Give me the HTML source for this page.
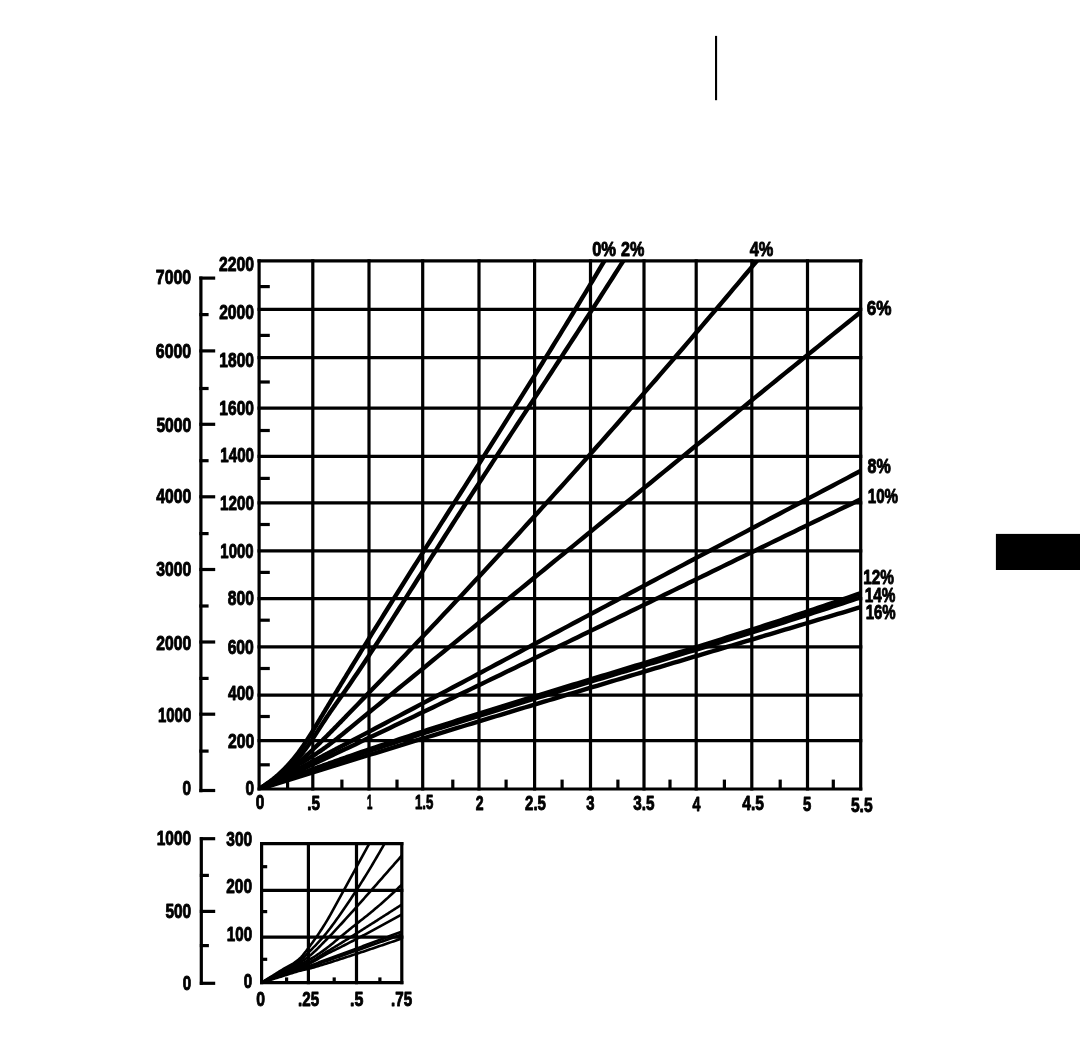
<!DOCTYPE html><html><head><meta charset="utf-8"><style>html,body{margin:0;padding:0;background:#fff;width:1080px;height:1058px;overflow:hidden}svg{display:block;will-change:transform}</style></head><body><svg width="1080" height="1058" viewBox="0 0 1080 1058">
<rect width="1080" height="1058" fill="#fff"/>
<g stroke="#000" fill="none">
<line x1="259.10" y1="259.20" x2="259.10" y2="790.60" stroke-width="3.2" stroke-linecap="butt"/>
<line x1="312.80" y1="259.20" x2="312.80" y2="790.60" stroke-width="3.2" stroke-linecap="butt"/>
<line x1="369.00" y1="259.20" x2="369.00" y2="790.60" stroke-width="3.2" stroke-linecap="butt"/>
<line x1="422.70" y1="259.20" x2="422.70" y2="790.60" stroke-width="3.2" stroke-linecap="butt"/>
<line x1="479.00" y1="259.20" x2="479.00" y2="790.60" stroke-width="3.2" stroke-linecap="butt"/>
<line x1="534.60" y1="259.20" x2="534.60" y2="790.60" stroke-width="3.2" stroke-linecap="butt"/>
<line x1="590.50" y1="259.20" x2="590.50" y2="790.60" stroke-width="3.2" stroke-linecap="butt"/>
<line x1="644.00" y1="259.20" x2="644.00" y2="790.60" stroke-width="3.2" stroke-linecap="butt"/>
<line x1="696.20" y1="259.20" x2="696.20" y2="790.60" stroke-width="3.2" stroke-linecap="butt"/>
<line x1="751.80" y1="259.20" x2="751.80" y2="790.60" stroke-width="3.2" stroke-linecap="butt"/>
<line x1="807.50" y1="259.20" x2="807.50" y2="790.60" stroke-width="3.2" stroke-linecap="butt"/>
<line x1="860.70" y1="259.20" x2="860.70" y2="790.60" stroke-width="3.2" stroke-linecap="butt"/>
<line x1="257.50" y1="789.00" x2="862.30" y2="789.00" stroke-width="3.2" stroke-linecap="butt"/>
<line x1="257.50" y1="740.70" x2="862.30" y2="740.70" stroke-width="3.2" stroke-linecap="butt"/>
<line x1="257.50" y1="695.10" x2="862.30" y2="695.10" stroke-width="3.2" stroke-linecap="butt"/>
<line x1="257.50" y1="646.90" x2="862.30" y2="646.90" stroke-width="3.2" stroke-linecap="butt"/>
<line x1="257.50" y1="598.60" x2="862.30" y2="598.60" stroke-width="3.2" stroke-linecap="butt"/>
<line x1="257.50" y1="550.90" x2="862.30" y2="550.90" stroke-width="3.2" stroke-linecap="butt"/>
<line x1="257.50" y1="502.80" x2="862.30" y2="502.80" stroke-width="3.2" stroke-linecap="butt"/>
<line x1="257.50" y1="456.30" x2="862.30" y2="456.30" stroke-width="3.2" stroke-linecap="butt"/>
<line x1="257.50" y1="408.20" x2="862.30" y2="408.20" stroke-width="3.2" stroke-linecap="butt"/>
<line x1="257.50" y1="357.60" x2="862.30" y2="357.60" stroke-width="3.2" stroke-linecap="butt"/>
<line x1="257.50" y1="309.40" x2="862.30" y2="309.40" stroke-width="3.2" stroke-linecap="butt"/>
<line x1="257.50" y1="260.80" x2="862.30" y2="260.80" stroke-width="3.2" stroke-linecap="butt"/>
<line x1="259.10" y1="286.60" x2="269.80" y2="286.60" stroke-width="3.2" stroke-linecap="butt"/>
<line x1="259.10" y1="335.40" x2="269.80" y2="335.40" stroke-width="3.2" stroke-linecap="butt"/>
<line x1="259.10" y1="382.00" x2="269.80" y2="382.00" stroke-width="3.2" stroke-linecap="butt"/>
<line x1="259.10" y1="430.50" x2="269.80" y2="430.50" stroke-width="3.2" stroke-linecap="butt"/>
<line x1="259.10" y1="478.40" x2="269.80" y2="478.40" stroke-width="3.2" stroke-linecap="butt"/>
<line x1="259.10" y1="524.50" x2="269.80" y2="524.50" stroke-width="3.2" stroke-linecap="butt"/>
<line x1="259.10" y1="572.40" x2="269.80" y2="572.40" stroke-width="3.2" stroke-linecap="butt"/>
<line x1="259.10" y1="620.20" x2="269.80" y2="620.20" stroke-width="3.2" stroke-linecap="butt"/>
<line x1="259.10" y1="668.50" x2="269.80" y2="668.50" stroke-width="3.2" stroke-linecap="butt"/>
<line x1="259.10" y1="716.50" x2="269.80" y2="716.50" stroke-width="3.2" stroke-linecap="butt"/>
<line x1="259.10" y1="764.80" x2="269.80" y2="764.80" stroke-width="3.2" stroke-linecap="butt"/>
<line x1="287.60" y1="789.00" x2="287.60" y2="779.60" stroke-width="3.2" stroke-linecap="butt"/>
<line x1="341.90" y1="789.00" x2="341.90" y2="779.60" stroke-width="3.2" stroke-linecap="butt"/>
<line x1="397.00" y1="789.00" x2="397.00" y2="779.60" stroke-width="3.2" stroke-linecap="butt"/>
<line x1="452.80" y1="789.00" x2="452.80" y2="779.60" stroke-width="3.2" stroke-linecap="butt"/>
<line x1="506.10" y1="789.00" x2="506.10" y2="779.60" stroke-width="3.2" stroke-linecap="butt"/>
<line x1="562.10" y1="789.00" x2="562.10" y2="779.60" stroke-width="3.2" stroke-linecap="butt"/>
<line x1="617.90" y1="789.00" x2="617.90" y2="779.60" stroke-width="3.2" stroke-linecap="butt"/>
<line x1="670.00" y1="789.00" x2="670.00" y2="779.60" stroke-width="3.2" stroke-linecap="butt"/>
<line x1="724.40" y1="789.00" x2="724.40" y2="779.60" stroke-width="3.2" stroke-linecap="butt"/>
<line x1="780.20" y1="789.00" x2="780.20" y2="779.60" stroke-width="3.2" stroke-linecap="butt"/>
<line x1="833.30" y1="789.00" x2="833.30" y2="779.60" stroke-width="3.2" stroke-linecap="butt"/>
<line x1="200.90" y1="276.50" x2="200.90" y2="792.20" stroke-width="3.2" stroke-linecap="butt"/>
<line x1="199.30" y1="278.10" x2="215.20" y2="278.10" stroke-width="3.2" stroke-linecap="butt"/>
<line x1="199.30" y1="350.90" x2="215.20" y2="350.90" stroke-width="3.2" stroke-linecap="butt"/>
<line x1="199.30" y1="424.30" x2="215.20" y2="424.30" stroke-width="3.2" stroke-linecap="butt"/>
<line x1="199.30" y1="496.80" x2="215.20" y2="496.80" stroke-width="3.2" stroke-linecap="butt"/>
<line x1="199.30" y1="569.50" x2="215.20" y2="569.50" stroke-width="3.2" stroke-linecap="butt"/>
<line x1="199.30" y1="642.00" x2="215.20" y2="642.00" stroke-width="3.2" stroke-linecap="butt"/>
<line x1="199.30" y1="714.20" x2="215.20" y2="714.20" stroke-width="3.2" stroke-linecap="butt"/>
<line x1="199.30" y1="790.50" x2="215.20" y2="790.50" stroke-width="3.2" stroke-linecap="butt"/>
<line x1="199.30" y1="314.60" x2="208.60" y2="314.60" stroke-width="3.2" stroke-linecap="butt"/>
<line x1="199.30" y1="388.50" x2="208.60" y2="388.50" stroke-width="3.2" stroke-linecap="butt"/>
<line x1="199.30" y1="460.70" x2="208.60" y2="460.70" stroke-width="3.2" stroke-linecap="butt"/>
<line x1="199.30" y1="533.60" x2="208.60" y2="533.60" stroke-width="3.2" stroke-linecap="butt"/>
<line x1="199.30" y1="606.00" x2="208.60" y2="606.00" stroke-width="3.2" stroke-linecap="butt"/>
<line x1="199.30" y1="678.40" x2="208.60" y2="678.40" stroke-width="3.2" stroke-linecap="butt"/>
<line x1="199.30" y1="751.10" x2="208.60" y2="751.10" stroke-width="3.2" stroke-linecap="butt"/>
<line x1="261.60" y1="842.10" x2="261.60" y2="984.20" stroke-width="3.2" stroke-linecap="butt"/>
<line x1="308.40" y1="842.10" x2="308.40" y2="984.20" stroke-width="3.2" stroke-linecap="butt"/>
<line x1="356.50" y1="842.10" x2="356.50" y2="984.20" stroke-width="3.2" stroke-linecap="butt"/>
<line x1="401.80" y1="842.10" x2="401.80" y2="984.20" stroke-width="3.2" stroke-linecap="butt"/>
<line x1="260.00" y1="982.60" x2="403.40" y2="982.60" stroke-width="3.2" stroke-linecap="butt"/>
<line x1="260.00" y1="937.10" x2="403.40" y2="937.10" stroke-width="3.2" stroke-linecap="butt"/>
<line x1="260.00" y1="890.30" x2="403.40" y2="890.30" stroke-width="3.2" stroke-linecap="butt"/>
<line x1="260.00" y1="843.70" x2="403.40" y2="843.70" stroke-width="3.2" stroke-linecap="butt"/>
<line x1="261.60" y1="866.70" x2="267.20" y2="866.70" stroke-width="3.2" stroke-linecap="butt"/>
<line x1="261.60" y1="911.60" x2="267.20" y2="911.60" stroke-width="3.2" stroke-linecap="butt"/>
<line x1="261.60" y1="959.30" x2="267.20" y2="959.30" stroke-width="3.2" stroke-linecap="butt"/>
<line x1="286.60" y1="982.60" x2="286.60" y2="977.40" stroke-width="3.2" stroke-linecap="butt"/>
<line x1="334.20" y1="982.60" x2="334.20" y2="977.40" stroke-width="3.2" stroke-linecap="butt"/>
<line x1="379.90" y1="982.60" x2="379.90" y2="977.40" stroke-width="3.2" stroke-linecap="butt"/>
<line x1="201.30" y1="837.10" x2="201.30" y2="984.80" stroke-width="3.2" stroke-linecap="butt"/>
<line x1="199.80" y1="838.70" x2="215.20" y2="838.70" stroke-width="3.2" stroke-linecap="butt"/>
<line x1="199.80" y1="911.40" x2="215.20" y2="911.40" stroke-width="3.2" stroke-linecap="butt"/>
<line x1="199.80" y1="983.30" x2="215.20" y2="983.30" stroke-width="3.2" stroke-linecap="butt"/>
<line x1="199.80" y1="875.40" x2="208.90" y2="875.40" stroke-width="3.2" stroke-linecap="butt"/>
<line x1="199.80" y1="945.60" x2="208.90" y2="945.60" stroke-width="3.2" stroke-linecap="butt"/>
</g>
<defs><clipPath id="cm"><rect x="259.10" y="260.80" width="601.60" height="528.20"/></clipPath>
<clipPath id="ci"><rect x="261.60" y="843.70" width="140.20" height="138.90"/></clipPath></defs>
<g clip-path="url(#cm)" stroke="#000" fill="none" stroke-width="4.4" stroke-linejoin="round">
<path d="M259.10,789.30 259.90,788.39 260.71,787.89 261.51,787.38 262.31,786.87 263.11,786.34 263.92,785.81 264.72,785.27 265.52,784.72 266.32,784.16 267.13,783.59 267.93,783.02 268.73,782.43 269.53,781.84 270.34,781.23 271.14,780.62 271.94,779.99 272.74,779.36 273.55,778.71 274.35,778.06 275.15,777.39 275.96,776.71 276.76,776.02 277.56,775.32 278.36,774.61 279.17,773.89 279.97,773.15 280.77,772.40 281.57,771.64 282.38,770.87 283.18,770.08 283.98,769.28 284.78,768.47 285.59,767.65 286.39,766.81 287.19,765.95 288.00,765.09 288.80,764.21 289.60,763.31 290.40,762.40 291.21,761.47 292.01,760.53 292.81,759.58 293.61,758.61 294.42,757.62 295.22,756.62 296.02,755.60 296.82,754.57 297.63,753.52 298.43,752.46 299.23,751.37 300.03,750.27 300.84,749.15 301.64,748.02 302.44,746.87 303.25,745.71 304.05,744.53 304.85,743.33 305.65,742.12 306.46,740.90 307.26,739.67 308.06,738.43 308.86,737.17 309.67,735.91 310.47,734.63 311.27,733.35 312.07,732.05 312.88,730.76 313.68,729.45 314.48,728.14 315.28,726.82 316.09,725.49 316.89,724.16 317.69,722.83 318.50,721.50 319.30,720.16 320.10,718.82 320.90,717.48 321.71,716.14 322.51,714.80 323.31,713.46 324.11,712.12 324.92,710.79 325.72,709.45 326.52,708.11 327.32,706.78 328.13,705.44 328.93,704.11 329.73,702.78 330.54,701.45 331.34,700.12 332.14,698.79 332.94,697.46 333.75,696.13 334.55,694.80 335.35,693.47 336.15,692.15 336.96,690.82 337.76,689.50 338.56,688.17 339.36,686.85 340.17,685.53 340.97,684.21 341.77,682.89 342.57,681.57 343.38,680.25 344.18,678.93 344.98,677.61 345.79,676.30 346.59,674.98 349.10,670.87 351.60,666.77 354.11,662.68 356.62,658.59 359.13,654.51 361.64,650.43 364.15,646.36 366.65,642.30 369.16,638.25 371.67,634.19 374.18,630.15 376.69,626.11 379.20,622.07 381.70,618.04 384.21,614.02 386.72,610.00 389.23,605.98 391.74,601.97 394.24,597.96 396.75,593.96 399.26,589.96 401.77,585.96 404.28,581.97 406.79,577.98 409.29,574.00 411.80,570.02 414.31,566.04 416.82,562.06 419.33,558.09 421.84,554.11 424.34,550.15 426.85,546.18 429.36,542.21 431.87,538.25 434.38,534.29 436.89,530.33 439.39,526.37 441.90,522.41 444.41,518.46 446.92,514.50 449.43,510.54 451.93,506.59 454.44,502.64 456.95,498.68 459.46,494.73 461.97,490.77 464.48,486.82 466.98,482.87 469.49,478.91 472.00,474.95 474.51,471.00 477.02,467.04 479.53,463.08 482.03,459.12 484.54,455.16 487.05,451.19 489.56,447.23 492.07,443.26 494.58,439.29 497.08,435.32 499.59,431.34 502.10,427.37 504.61,423.39 507.12,419.40 509.62,415.42 512.13,411.43 514.64,407.43 517.15,403.44 519.66,399.44 522.17,395.43 524.67,391.42 527.18,387.41 529.69,383.39 532.20,379.37 534.71,375.34 537.22,371.31 539.72,367.28 542.23,363.23 544.74,359.19 547.25,355.13 549.76,351.07 552.27,347.01 554.77,342.94 557.28,338.86 559.79,334.78 562.30,330.69 564.81,326.59 567.31,322.49 569.82,318.38 572.33,314.26 574.84,310.14 577.35,306.01 579.86,301.87 582.36,297.72 584.87,293.56 587.38,289.40 589.89,285.23 592.40,281.05 594.91,276.86 597.41,272.66 599.92,268.45 602.43,264.24 604.94,260.01 607.45,255.78 609.95,251.53 612.46,247.28 614.97,243.01 617.48,238.74 619.99,234.46"/>
<path d="M259.10,789.30 259.90,788.84 260.71,788.33 261.51,787.82 262.31,787.31 263.11,786.80 263.92,786.28 264.72,785.77 265.52,785.25 266.32,784.73 267.13,784.21 267.93,783.68 268.73,783.15 269.53,782.62 270.34,782.08 271.14,781.54 271.94,780.99 272.74,780.44 273.55,779.88 274.35,779.32 275.15,778.75 275.96,778.17 276.76,777.59 277.56,777.00 278.36,776.40 279.17,775.79 279.97,775.17 280.77,774.55 281.57,773.91 282.38,773.27 283.18,772.62 283.98,771.95 284.78,771.28 285.59,770.59 286.39,769.90 287.19,769.19 288.00,768.47 288.80,767.74 289.60,766.99 290.40,766.23 291.21,765.46 292.01,764.68 292.81,763.88 293.61,763.06 294.42,762.23 295.22,761.39 296.02,760.53 296.82,759.65 297.63,758.76 298.43,757.85 299.23,756.93 300.03,755.98 300.84,755.02 301.64,754.04 302.44,753.05 303.25,752.03 304.05,751.00 304.85,749.94 305.65,748.87 306.46,747.77 307.26,746.66 308.06,745.54 308.86,744.39 309.67,743.23 310.47,742.06 311.27,740.88 312.07,739.69 312.88,738.48 313.68,737.27 314.48,736.04 315.28,734.82 316.09,733.58 316.89,732.34 317.69,731.10 318.50,729.86 319.30,728.61 320.10,727.37 320.90,726.13 321.71,724.88 322.51,723.64 323.31,722.41 324.11,721.18 324.92,719.95 325.72,718.73 326.52,717.52 327.32,716.32 328.13,715.13 328.93,713.94 329.73,712.77 330.54,711.60 331.34,710.45 332.14,709.29 332.94,708.15 333.75,707.01 334.55,705.87 335.35,704.73 336.15,703.60 336.96,702.47 337.76,701.34 338.56,700.21 339.36,699.07 340.17,697.94 340.97,696.80 341.77,695.66 342.57,694.51 343.38,693.37 344.18,692.22 344.98,691.07 345.79,689.91 346.59,688.75 349.25,684.90 351.91,681.01 354.56,677.10 357.22,673.17 359.88,669.20 362.54,665.22 365.20,661.21 367.86,657.18 370.52,653.13 373.18,649.06 375.83,644.97 378.49,640.87 381.15,636.74 383.81,632.61 386.47,628.46 389.13,624.30 391.79,620.12 394.45,615.94 397.10,611.75 399.76,607.55 402.42,603.34 405.08,599.13 407.74,594.91 410.40,590.69 413.06,586.47 415.72,582.24 418.37,578.02 421.03,573.80 423.69,569.58 426.35,565.36 429.01,561.15 431.67,556.94 434.33,552.75 436.99,548.56 439.64,544.37 442.30,540.20 444.96,536.03 447.62,531.86 450.28,527.71 452.94,523.56 455.60,519.41 458.26,515.27 460.91,511.14 463.57,507.01 466.23,502.89 468.89,498.77 471.55,494.66 474.21,490.55 476.87,486.45 479.53,482.35 482.18,478.26 484.84,474.16 487.50,470.08 490.16,465.99 492.82,461.91 495.48,457.83 498.14,453.75 500.80,449.68 503.45,445.61 506.11,441.54 508.77,437.47 511.43,433.40 514.09,429.34 516.75,425.27 519.41,421.21 522.07,417.15 524.72,413.09 527.38,409.02 530.04,404.96 532.70,400.90 535.36,396.84 538.02,392.78 540.68,388.71 543.34,384.65 545.99,380.58 548.65,376.52 551.31,372.45 553.97,368.38 556.63,364.31 559.29,360.23 561.95,356.15 564.61,352.07 567.26,347.99 569.92,343.91 572.58,339.82 575.24,335.72 577.90,331.63 580.56,327.53 583.22,323.42 585.88,319.31 588.53,315.20 591.19,311.08 593.85,306.96 596.51,302.83 599.17,298.70 601.83,294.56 604.49,290.41 607.15,286.26 609.80,282.10 612.46,277.94 615.12,273.77 617.78,269.59 620.44,265.40 623.10,261.21 625.76,257.01 628.42,252.80 631.07,248.59 633.73,244.36 636.39,240.13"/>
<path d="M259.10,789.30 259.90,789.01 260.71,788.62 261.51,788.23 262.31,787.83 263.11,787.42 263.92,787.00 264.72,786.57 265.52,786.14 266.32,785.70 267.13,785.25 267.93,784.79 268.73,784.33 269.53,783.85 270.34,783.38 271.14,782.89 271.94,782.40 272.74,781.89 273.55,781.39 274.35,780.87 275.15,780.35 275.96,779.82 276.76,779.29 277.56,778.75 278.36,778.20 279.17,777.64 279.97,777.08 280.77,776.51 281.57,775.94 282.38,775.36 283.18,774.77 283.98,774.18 284.78,773.58 285.59,772.98 286.39,772.37 287.19,771.76 288.00,771.13 288.80,770.51 289.60,769.88 290.40,769.24 291.21,768.60 292.01,767.95 292.81,767.29 293.61,766.64 294.42,765.97 295.22,765.30 296.02,764.63 296.82,763.95 297.63,763.27 298.43,762.58 299.23,761.89 300.03,761.20 300.84,760.50 301.64,759.79 302.44,759.08 303.25,758.37 304.05,757.65 304.85,756.93 305.65,756.21 306.46,755.48 307.26,754.75 308.06,754.01 308.86,753.27 309.67,752.53 310.47,751.78 311.27,751.03 312.07,750.28 312.88,749.52 313.68,748.76 314.48,748.00 315.28,747.23 316.09,746.46 316.89,745.69 317.69,744.92 318.50,744.14 319.30,743.36 320.10,742.58 320.90,741.79 321.71,741.01 322.51,740.22 323.31,739.43 324.11,738.63 324.92,737.84 325.72,737.04 326.52,736.24 327.32,735.44 328.13,734.64 328.93,733.83 329.73,733.03 330.54,732.22 331.34,731.41 332.14,730.60 332.94,729.79 333.75,728.97 334.55,728.16 335.35,727.34 336.15,726.53 336.96,725.71 337.76,724.89 338.56,724.07 339.36,723.24 340.17,722.42 340.97,721.60 341.77,720.77 342.57,719.95 343.38,719.12 344.18,718.30 344.98,717.47 345.79,716.64 346.59,715.81 350.50,711.77 354.41,707.73 358.33,703.69 362.24,699.65 366.15,695.61 370.07,691.57 373.98,687.52 377.89,683.47 381.80,679.41 385.72,675.34 389.63,671.27 393.54,667.19 397.46,663.10 401.37,659.01 405.28,654.91 409.19,650.81 413.11,646.70 417.02,642.58 420.93,638.46 424.85,634.33 428.76,630.20 432.67,626.06 436.58,621.92 440.50,617.76 444.41,613.60 448.32,609.44 452.24,605.27 456.15,601.09 460.06,596.91 463.97,592.72 467.89,588.53 471.80,584.32 475.71,580.12 479.63,575.90 483.54,571.68 487.45,567.46 491.36,563.22 495.28,558.98 499.19,554.74 503.10,550.49 507.02,546.23 510.93,541.96 514.84,537.69 518.75,533.42 522.67,529.13 526.58,524.84 530.49,520.55 534.41,516.25 538.32,511.94 542.23,507.62 546.14,503.30 550.06,498.98 553.97,494.64 557.88,490.30 561.80,485.95 565.71,481.60 569.62,477.24 573.54,472.87 577.45,468.50 581.36,464.12 585.27,459.74 589.19,455.35 593.10,450.95 597.01,446.54 600.93,442.13 604.84,437.71 608.75,433.29 612.66,428.86 616.58,424.42 620.49,419.98 624.40,415.52 628.32,411.07 632.23,406.60 636.14,402.13 640.05,397.66 643.97,393.17 647.88,388.68 651.79,384.18 655.71,379.68 659.62,375.17 663.53,370.65 667.44,366.13 671.36,361.60 675.27,357.06 679.18,352.52 683.10,347.97 687.01,343.41 690.92,338.85 694.83,334.28 698.75,329.70 702.66,325.12 706.57,320.53 710.49,315.93 714.40,311.32 718.31,306.71 722.22,302.09 726.14,297.47 730.05,292.84 733.96,288.20 737.88,283.56 741.79,278.90 745.70,274.24 749.61,269.58 753.53,264.91 757.44,260.23 761.35,255.54 765.27,250.85 769.18,246.15 773.09,241.44"/>
<path d="M259.10,789.30 259.90,788.64 260.71,788.07 261.51,787.49 262.31,786.93 263.11,786.37 263.92,785.81 264.72,785.26 265.52,784.71 266.32,784.17 267.13,783.63 267.93,783.10 268.73,782.57 269.53,782.04 270.34,781.52 271.14,781.00 271.94,780.49 272.74,779.98 273.55,779.47 274.35,778.97 275.15,778.46 275.96,777.97 276.76,777.47 277.56,776.98 278.36,776.49 279.17,776.00 279.97,775.51 280.77,775.03 281.57,774.55 282.38,774.07 283.18,773.59 283.98,773.11 284.78,772.64 285.59,772.17 286.39,771.69 287.19,771.22 288.00,770.75 288.80,770.28 289.60,769.81 290.40,769.34 291.21,768.87 292.01,768.41 292.81,767.94 293.61,767.47 294.42,767.00 295.22,766.53 296.02,766.06 296.82,765.60 297.63,765.12 298.43,764.65 299.23,764.18 300.03,763.71 300.84,763.23 301.64,762.76 302.44,762.28 303.25,761.80 304.05,761.32 304.85,760.84 305.65,760.35 306.46,759.87 307.26,759.38 308.06,758.89 308.86,758.39 309.67,757.89 310.47,757.39 311.27,756.89 312.07,756.39 312.88,755.88 313.68,755.36 314.48,754.85 315.28,754.33 316.09,753.80 316.89,753.28 317.69,752.74 318.50,752.21 319.30,751.67 320.10,751.12 320.90,750.57 321.71,750.02 322.51,749.46 323.31,748.90 324.11,748.33 324.92,747.75 325.72,747.17 326.52,746.59 327.32,746.00 328.13,745.41 328.93,744.81 329.73,744.21 330.54,743.60 331.34,742.99 332.14,742.37 332.94,741.76 333.75,741.13 334.55,740.51 335.35,739.88 336.15,739.25 336.96,738.61 337.76,737.98 338.56,737.34 339.36,736.69 340.17,736.05 340.97,735.40 341.77,734.75 342.57,734.10 343.38,733.45 344.18,732.79 344.98,732.14 345.79,731.48 346.59,730.82 351.40,726.85 356.22,722.87 361.04,718.91 365.85,714.96 370.67,711.02 375.48,707.10 380.30,703.18 385.11,699.26 389.93,695.34 394.75,691.43 399.56,687.51 404.38,683.60 409.19,679.68 414.01,675.76 418.83,671.84 423.64,667.92 428.46,664.00 433.27,660.07 438.09,656.15 442.91,652.23 447.72,648.30 452.54,644.38 457.35,640.45 462.17,636.52 466.98,632.60 471.80,628.67 476.62,624.74 481.43,620.81 486.25,616.88 491.06,612.95 495.88,609.02 500.70,605.09 505.51,601.16 510.33,597.23 515.14,593.29 519.96,589.36 524.77,585.43 529.59,581.50 534.41,577.56 539.22,573.63 544.04,569.70 548.85,565.76 553.67,561.83 558.49,557.89 563.30,553.96 568.12,550.03 572.93,546.09 577.75,542.16 582.56,538.22 587.38,534.29 592.20,530.36 597.01,526.42 601.83,522.49 606.64,518.56 611.46,514.62 616.28,510.69 621.09,506.76 625.91,502.83 630.72,498.89 635.54,494.96 640.36,491.03 645.17,487.10 649.99,483.17 654.80,479.24 659.62,475.31 664.43,471.38 669.25,467.45 674.07,463.52 678.88,459.60 683.70,455.67 688.51,451.74 693.33,447.82 698.15,443.89 702.96,439.97 707.78,436.05 712.59,432.12 717.41,428.20 722.22,424.28 727.04,420.36 731.86,416.44 736.67,412.53 741.49,408.61 746.30,404.69 751.12,400.78 755.94,396.86 760.75,392.95 765.57,389.04 770.38,385.13 775.20,381.22 780.01,377.31 784.83,373.40 789.65,369.50 794.46,365.59 799.28,361.69 804.09,357.79 808.91,353.89 813.73,349.99 818.54,346.09 823.36,342.19 828.17,338.30 832.99,334.40 837.81,330.51 842.62,326.62 847.44,322.73 852.25,318.84 857.07,314.96 861.88,311.07 866.70,307.19 871.52,303.31"/>
<path d="M259.10,789.30 259.90,788.88 260.71,788.47 261.51,788.05 262.31,787.63 263.11,787.21 263.92,786.79 264.72,786.37 265.52,785.96 266.32,785.54 267.13,785.12 267.93,784.70 268.73,784.28 269.53,783.86 270.34,783.45 271.14,783.03 271.94,782.61 272.74,782.19 273.55,781.77 274.35,781.35 275.15,780.93 275.96,780.51 276.76,780.10 277.56,779.68 278.36,779.26 279.17,778.84 279.97,778.42 280.77,778.00 281.57,777.58 282.38,777.16 283.18,776.74 283.98,776.32 284.78,775.91 285.59,775.49 286.39,775.07 287.19,774.65 288.00,774.23 288.80,773.81 289.60,773.39 290.40,772.97 291.21,772.55 292.01,772.13 292.81,771.71 293.61,771.29 294.42,770.87 295.22,770.45 296.02,770.03 296.82,769.61 297.63,769.19 298.43,768.77 299.23,768.35 300.03,767.93 300.84,767.51 301.64,767.09 302.44,766.67 303.25,766.25 304.05,765.83 304.85,765.41 305.65,764.99 306.46,764.57 307.26,764.15 308.06,763.73 308.86,763.31 309.67,762.89 310.47,762.47 311.27,762.05 312.07,761.63 312.88,761.21 313.68,760.79 314.48,760.36 315.28,759.94 316.09,759.52 316.89,759.10 317.69,758.68 318.50,758.26 319.30,757.84 320.10,757.42 320.90,757.00 321.71,756.58 322.51,756.16 323.31,755.73 324.11,755.31 324.92,754.89 325.72,754.47 326.52,754.05 327.32,753.63 328.13,753.21 328.93,752.79 329.73,752.36 330.54,751.94 331.34,751.52 332.14,751.10 332.94,750.68 333.75,750.26 334.55,749.84 335.35,749.41 336.15,748.99 336.96,748.57 337.76,748.15 338.56,747.73 339.36,747.31 340.17,746.88 340.97,746.46 341.77,746.04 342.57,745.62 343.38,745.20 344.18,744.77 344.98,744.35 345.79,743.93 346.59,743.51 351.40,740.97 356.22,738.44 361.04,735.90 365.85,733.37 370.67,730.83 375.48,728.29 380.30,725.75 385.11,723.21 389.93,720.67 394.75,718.13 399.56,715.58 404.38,713.04 409.19,710.49 414.01,707.95 418.83,705.40 423.64,702.85 428.46,700.30 433.27,697.75 438.09,695.20 442.91,692.65 447.72,690.10 452.54,687.54 457.35,684.99 462.17,682.44 466.98,679.88 471.80,677.32 476.62,674.77 481.43,672.21 486.25,669.65 491.06,667.10 495.88,664.54 500.70,661.98 505.51,659.42 510.33,656.86 515.14,654.30 519.96,651.74 524.77,649.18 529.59,646.62 534.41,644.05 539.22,641.49 544.04,638.93 548.85,636.37 553.67,633.80 558.49,631.24 563.30,628.68 568.12,626.11 572.93,623.55 577.75,620.99 582.56,618.42 587.38,615.86 592.20,613.29 597.01,610.73 601.83,608.16 606.64,605.60 611.46,603.04 616.28,600.47 621.09,597.91 625.91,595.34 630.72,592.78 635.54,590.21 640.36,587.65 645.17,585.09 649.99,582.52 654.80,579.96 659.62,577.40 664.43,574.83 669.25,572.27 674.07,569.71 678.88,567.15 683.70,564.58 688.51,562.02 693.33,559.46 698.15,556.90 702.96,554.34 707.78,551.78 712.59,549.22 717.41,546.66 722.22,544.10 727.04,541.55 731.86,538.99 736.67,536.43 741.49,533.88 746.30,531.32 751.12,528.76 755.94,526.21 760.75,523.66 765.57,521.10 770.38,518.55 775.20,516.00 780.01,513.45 784.83,510.90 789.65,508.35 794.46,505.80 799.28,503.25 804.09,500.71 808.91,498.16 813.73,495.62 818.54,493.07 823.36,490.53 828.17,487.99 832.99,485.45 837.81,482.91 842.62,480.37 847.44,477.83 852.25,475.29 857.07,472.76 861.88,470.22 866.70,467.69 871.52,465.16"/>
<path d="M259.10,789.30 259.90,788.94 260.71,788.57 261.51,788.20 262.31,787.82 263.11,787.45 263.92,787.08 264.72,786.71 265.52,786.34 266.32,785.97 267.13,785.60 267.93,785.23 268.73,784.86 269.53,784.48 270.34,784.11 271.14,783.74 271.94,783.37 272.74,783.00 273.55,782.63 274.35,782.25 275.15,781.88 275.96,781.51 276.76,781.14 277.56,780.77 278.36,780.39 279.17,780.02 279.97,779.65 280.77,779.28 281.57,778.90 282.38,778.53 283.18,778.16 283.98,777.78 284.78,777.41 285.59,777.04 286.39,776.66 287.19,776.29 288.00,775.92 288.80,775.54 289.60,775.17 290.40,774.80 291.21,774.42 292.01,774.05 292.81,773.68 293.61,773.30 294.42,772.93 295.22,772.55 296.02,772.18 296.82,771.81 297.63,771.43 298.43,771.06 299.23,770.68 300.03,770.31 300.84,769.93 301.64,769.56 302.44,769.18 303.25,768.81 304.05,768.43 304.85,768.06 305.65,767.68 306.46,767.31 307.26,766.93 308.06,766.56 308.86,766.18 309.67,765.81 310.47,765.43 311.27,765.06 312.07,764.68 312.88,764.30 313.68,763.93 314.48,763.55 315.28,763.18 316.09,762.80 316.89,762.42 317.69,762.05 318.50,761.67 319.30,761.30 320.10,760.92 320.90,760.54 321.71,760.17 322.51,759.79 323.31,759.41 324.11,759.04 324.92,758.66 325.72,758.28 326.52,757.90 327.32,757.53 328.13,757.15 328.93,756.77 329.73,756.40 330.54,756.02 331.34,755.64 332.14,755.26 332.94,754.89 333.75,754.51 334.55,754.13 335.35,753.75 336.15,753.37 336.96,753.00 337.76,752.62 338.56,752.24 339.36,751.86 340.17,751.48 340.97,751.10 341.77,750.73 342.57,750.35 343.38,749.97 344.18,749.59 344.98,749.21 345.79,748.83 346.59,748.45 351.40,746.18 356.22,743.90 361.04,741.62 365.85,739.34 370.67,737.06 375.48,734.77 380.30,732.48 385.11,730.19 389.93,727.90 394.75,725.60 399.56,723.31 404.38,721.01 409.19,718.71 414.01,716.40 418.83,714.10 423.64,711.79 428.46,709.48 433.27,707.17 438.09,704.86 442.91,702.55 447.72,700.23 452.54,697.91 457.35,695.59 462.17,693.27 466.98,690.95 471.80,688.63 476.62,686.30 481.43,683.97 486.25,681.64 491.06,679.32 495.88,676.98 500.70,674.65 505.51,672.32 510.33,669.98 515.14,667.65 519.96,665.31 524.77,662.97 529.59,660.63 534.41,658.29 539.22,655.95 544.04,653.61 548.85,651.26 553.67,648.92 558.49,646.58 563.30,644.23 568.12,641.88 572.93,639.54 577.75,637.19 582.56,634.84 587.38,632.49 592.20,630.14 597.01,627.79 601.83,625.44 606.64,623.09 611.46,620.73 616.28,618.38 621.09,616.03 625.91,613.68 630.72,611.32 635.54,608.97 640.36,606.62 645.17,604.26 649.99,601.91 654.80,599.55 659.62,597.20 664.43,594.85 669.25,592.49 674.07,590.14 678.88,587.78 683.70,585.43 688.51,583.08 693.33,580.72 698.15,578.37 702.96,576.02 707.78,573.66 712.59,571.31 717.41,568.96 722.22,566.61 727.04,564.26 731.86,561.90 736.67,559.55 741.49,557.21 746.30,554.86 751.12,552.51 755.94,550.16 760.75,547.81 765.57,545.47 770.38,543.12 775.20,540.78 780.01,538.43 784.83,536.09 789.65,533.75 794.46,531.41 799.28,529.07 804.09,526.73 808.91,524.39 813.73,522.06 818.54,519.72 823.36,517.39 828.17,515.06 832.99,512.73 837.81,510.39 842.62,508.07 847.44,505.74 852.25,503.41 857.07,501.09 861.88,498.77 866.70,496.45 871.52,494.13"/>
<path d="M259.10,789.30 259.90,788.97 260.71,788.66 261.51,788.35 262.31,788.04 263.11,787.74 263.92,787.43 264.72,787.12 265.52,786.81 266.32,786.50 267.13,786.20 267.93,785.89 268.73,785.58 269.53,785.28 270.34,784.97 271.14,784.67 271.94,784.36 272.74,784.06 273.55,783.75 274.35,783.45 275.15,783.14 275.96,782.84 276.76,782.54 277.56,782.23 278.36,781.93 279.17,781.63 279.97,781.33 280.77,781.02 281.57,780.72 282.38,780.42 283.18,780.12 283.98,779.82 284.78,779.52 285.59,779.22 286.39,778.92 287.19,778.62 288.00,778.32 288.80,778.02 289.60,777.72 290.40,777.42 291.21,777.12 292.01,776.83 292.81,776.53 293.61,776.23 294.42,775.93 295.22,775.64 296.02,775.34 296.82,775.05 297.63,774.75 298.43,774.45 299.23,774.16 300.03,773.86 300.84,773.57 301.64,773.27 302.44,772.98 303.25,772.69 304.05,772.39 304.85,772.10 305.65,771.81 306.46,771.51 307.26,771.22 308.06,770.93 308.86,770.64 309.67,770.34 310.47,770.05 311.27,769.76 312.07,769.47 312.88,769.18 313.68,768.89 314.48,768.60 315.28,768.31 316.09,768.02 316.89,767.73 317.69,767.44 318.50,767.15 319.30,766.86 320.10,766.57 320.90,766.29 321.71,766.00 322.51,765.71 323.31,765.42 324.11,765.14 324.92,764.85 325.72,764.56 326.52,764.28 327.32,763.99 328.13,763.71 328.93,763.42 329.73,763.13 330.54,762.85 331.34,762.56 332.14,762.28 332.94,762.00 333.75,761.71 334.55,761.43 335.35,761.14 336.15,760.86 336.96,760.58 337.76,760.30 338.56,760.01 339.36,759.73 340.17,759.45 340.97,759.17 341.77,758.88 342.57,758.60 343.38,758.32 344.18,758.04 344.98,757.76 345.79,757.48 346.59,757.20 351.40,755.52 356.22,753.86 361.04,752.19 365.85,750.54 370.67,748.90 375.48,747.26 380.30,745.63 385.11,744.01 389.93,742.40 394.75,740.79 399.56,739.19 404.38,737.59 409.19,736.00 414.01,734.42 418.83,732.85 423.64,731.28 428.46,729.71 433.27,728.16 438.09,726.60 442.91,725.06 447.72,723.52 452.54,721.98 457.35,720.45 462.17,718.92 466.98,717.40 471.80,715.88 476.62,714.37 481.43,712.86 486.25,711.35 491.06,709.85 495.88,708.35 500.70,706.85 505.51,705.36 510.33,703.87 515.14,702.39 519.96,700.90 524.77,699.42 529.59,697.94 534.41,696.47 539.22,694.99 544.04,693.52 548.85,692.05 553.67,690.59 558.49,689.12 563.30,687.65 568.12,686.19 572.93,684.73 577.75,683.26 582.56,681.80 587.38,680.34 592.20,678.88 597.01,677.42 601.83,675.96 606.64,674.50 611.46,673.04 616.28,671.57 621.09,670.11 625.91,668.65 630.72,667.19 635.54,665.72 640.36,664.26 645.17,662.79 649.99,661.32 654.80,659.85 659.62,658.38 664.43,656.90 669.25,655.42 674.07,653.94 678.88,652.46 683.70,650.98 688.51,649.49 693.33,648.00 698.15,646.51 702.96,645.01 707.78,643.51 712.59,642.00 717.41,640.50 722.22,638.98 727.04,637.47 731.86,635.95 736.67,634.42 741.49,632.89 746.30,631.36 751.12,629.82 755.94,628.27 760.75,626.72 765.57,625.17 770.38,623.61 775.20,622.04 780.01,620.47 784.83,618.89 789.65,617.30 794.46,615.71 799.28,614.12 804.09,612.51 808.91,610.90 813.73,609.28 818.54,607.65 823.36,606.02 828.17,604.38 832.99,602.73 837.81,601.08 842.62,599.41 847.44,597.74 852.25,596.06 857.07,594.37 861.88,592.67 866.70,590.96 871.52,589.25"/>
<path d="M259.10,789.30 259.90,788.99 260.71,788.70 261.51,788.40 262.31,788.11 263.11,787.82 263.92,787.52 264.72,787.23 265.52,786.94 266.32,786.65 267.13,786.36 267.93,786.07 268.73,785.78 269.53,785.48 270.34,785.19 271.14,784.90 271.94,784.61 272.74,784.32 273.55,784.03 274.35,783.74 275.15,783.46 275.96,783.17 276.76,782.88 277.56,782.59 278.36,782.30 279.17,782.01 279.97,781.72 280.77,781.44 281.57,781.15 282.38,780.86 283.18,780.58 283.98,780.29 284.78,780.00 285.59,779.72 286.39,779.43 287.19,779.14 288.00,778.86 288.80,778.57 289.60,778.29 290.40,778.00 291.21,777.72 292.01,777.43 292.81,777.15 293.61,776.86 294.42,776.58 295.22,776.30 296.02,776.01 296.82,775.73 297.63,775.45 298.43,775.16 299.23,774.88 300.03,774.60 300.84,774.32 301.64,774.03 302.44,773.75 303.25,773.47 304.05,773.19 304.85,772.91 305.65,772.63 306.46,772.35 307.26,772.07 308.06,771.78 308.86,771.50 309.67,771.22 310.47,770.94 311.27,770.66 312.07,770.39 312.88,770.11 313.68,769.83 314.48,769.55 315.28,769.27 316.09,768.99 316.89,768.71 317.69,768.43 318.50,768.16 319.30,767.88 320.10,767.60 320.90,767.32 321.71,767.05 322.51,766.77 323.31,766.49 324.11,766.22 324.92,765.94 325.72,765.66 326.52,765.39 327.32,765.11 328.13,764.84 328.93,764.56 329.73,764.29 330.54,764.01 331.34,763.74 332.14,763.46 332.94,763.19 333.75,762.91 334.55,762.64 335.35,762.37 336.15,762.09 336.96,761.82 337.76,761.54 338.56,761.27 339.36,761.00 340.17,760.73 340.97,760.45 341.77,760.18 342.57,759.91 343.38,759.64 344.18,759.36 344.98,759.09 345.79,758.82 346.59,758.55 351.40,756.93 356.22,755.31 361.04,753.69 365.85,752.09 370.67,750.49 375.48,748.89 380.30,747.30 385.11,745.72 389.93,744.14 394.75,742.57 399.56,741.00 404.38,739.44 409.19,737.88 414.01,736.33 418.83,734.78 423.64,733.24 428.46,731.70 433.27,730.16 438.09,728.63 442.91,727.11 447.72,725.59 452.54,724.07 457.35,722.55 462.17,721.04 466.98,719.53 471.80,718.03 476.62,716.53 481.43,715.03 486.25,713.54 491.06,712.05 495.88,710.56 500.70,709.07 505.51,707.59 510.33,706.11 515.14,704.63 519.96,703.15 524.77,701.68 529.59,700.21 534.41,698.74 539.22,697.27 544.04,695.80 548.85,694.34 553.67,692.87 558.49,691.41 563.30,689.95 568.12,688.49 572.93,687.03 577.75,685.58 582.56,684.12 587.38,682.66 592.20,681.21 597.01,679.75 601.83,678.29 606.64,676.84 611.46,675.38 616.28,673.93 621.09,672.47 625.91,671.02 630.72,669.56 635.54,668.11 640.36,666.65 645.17,665.19 649.99,663.73 654.80,662.27 659.62,660.81 664.43,659.35 669.25,657.88 674.07,656.42 678.88,654.95 683.70,653.48 688.51,652.01 693.33,650.54 698.15,649.07 702.96,647.59 707.78,646.11 712.59,644.63 717.41,643.15 722.22,641.66 727.04,640.17 731.86,638.68 736.67,637.19 741.49,635.69 746.30,634.19 751.12,632.68 755.94,631.18 760.75,629.67 765.57,628.15 770.38,626.63 775.20,625.11 780.01,623.58 784.83,622.05 789.65,620.52 794.46,618.98 799.28,617.43 804.09,615.89 808.91,614.33 813.73,612.78 818.54,611.21 823.36,609.64 828.17,608.07 832.99,606.49 837.81,604.91 842.62,603.32 847.44,601.72 852.25,600.12 857.07,598.52 861.88,596.90 866.70,595.28 871.52,593.66"/>
<path d="M259.10,789.30 259.90,789.02 260.71,788.77 261.51,788.52 262.31,788.27 263.11,788.01 263.92,787.76 264.72,787.51 265.52,787.26 266.32,787.00 267.13,786.75 267.93,786.50 268.73,786.25 269.53,785.99 270.34,785.74 271.14,785.49 271.94,785.24 272.74,784.98 273.55,784.73 274.35,784.48 275.15,784.23 275.96,783.98 276.76,783.72 277.56,783.47 278.36,783.22 279.17,782.97 279.97,782.72 280.77,782.47 281.57,782.21 282.38,781.96 283.18,781.71 283.98,781.46 284.78,781.21 285.59,780.96 286.39,780.70 287.19,780.45 288.00,780.20 288.80,779.95 289.60,779.70 290.40,779.45 291.21,779.20 292.01,778.95 292.81,778.69 293.61,778.44 294.42,778.19 295.22,777.94 296.02,777.69 296.82,777.44 297.63,777.19 298.43,776.94 299.23,776.69 300.03,776.44 300.84,776.18 301.64,775.93 302.44,775.68 303.25,775.43 304.05,775.18 304.85,774.93 305.65,774.68 306.46,774.43 307.26,774.18 308.06,773.93 308.86,773.68 309.67,773.43 310.47,773.18 311.27,772.93 312.07,772.68 312.88,772.43 313.68,772.18 314.48,771.93 315.28,771.68 316.09,771.43 316.89,771.18 317.69,770.93 318.50,770.68 319.30,770.43 320.10,770.18 320.90,769.93 321.71,769.68 322.51,769.43 323.31,769.18 324.11,768.93 324.92,768.68 325.72,768.43 326.52,768.18 327.32,767.93 328.13,767.68 328.93,767.43 329.73,767.18 330.54,766.93 331.34,766.68 332.14,766.44 332.94,766.19 333.75,765.94 334.55,765.69 335.35,765.44 336.15,765.19 336.96,764.94 337.76,764.69 338.56,764.44 339.36,764.19 340.17,763.94 340.97,763.70 341.77,763.45 342.57,763.20 343.38,762.95 344.18,762.70 344.98,762.45 345.79,762.20 346.59,761.95 351.40,760.46 356.22,758.97 361.04,757.49 365.85,756.00 370.67,754.51 375.48,753.03 380.30,751.54 385.11,750.06 389.93,748.58 394.75,747.10 399.56,745.62 404.38,744.14 409.19,742.67 414.01,741.19 418.83,739.71 423.64,738.24 428.46,736.77 433.27,735.30 438.09,733.83 442.91,732.36 447.72,730.89 452.54,729.42 457.35,727.95 462.17,726.49 466.98,725.02 471.80,723.56 476.62,722.10 481.43,720.64 486.25,719.17 491.06,717.71 495.88,716.25 500.70,714.80 505.51,713.34 510.33,711.88 515.14,710.42 519.96,708.97 524.77,707.51 529.59,706.06 534.41,704.61 539.22,703.16 544.04,701.70 548.85,700.25 553.67,698.80 558.49,697.35 563.30,695.90 568.12,694.46 572.93,693.01 577.75,691.56 582.56,690.12 587.38,688.67 592.20,687.22 597.01,685.78 601.83,684.34 606.64,682.89 611.46,681.45 616.28,680.01 621.09,678.56 625.91,677.12 630.72,675.68 635.54,674.24 640.36,672.80 645.17,671.36 649.99,669.92 654.80,668.48 659.62,667.04 664.43,665.61 669.25,664.17 674.07,662.73 678.88,661.29 683.70,659.86 688.51,658.42 693.33,656.98 698.15,655.55 702.96,654.11 707.78,652.68 712.59,651.24 717.41,649.81 722.22,648.37 727.04,646.94 731.86,645.50 736.67,644.07 741.49,642.63 746.30,641.20 751.12,639.77 755.94,638.33 760.75,636.90 765.57,635.47 770.38,634.03 775.20,632.60 780.01,631.16 784.83,629.73 789.65,628.30 794.46,626.86 799.28,625.43 804.09,624.00 808.91,622.56 813.73,621.13 818.54,619.70 823.36,618.26 828.17,616.83 832.99,615.40 837.81,613.96 842.62,612.53 847.44,611.09 852.25,609.66 857.07,608.22 861.88,606.79 866.70,605.35 871.52,603.92"/>
</g>
<g clip-path="url(#ci)" stroke="#000" fill="none" stroke-width="2.6" stroke-linejoin="round">
<path d="M261.60,982.60 262.97,981.74 264.34,980.88 265.72,980.03 267.09,979.17 268.46,978.31 269.83,977.45 271.20,976.59 272.57,975.74 273.95,974.88 275.32,974.02 276.69,973.16 278.06,972.30 279.43,971.45 280.80,970.59 282.18,969.77 283.55,968.98 284.92,968.21 286.29,967.45 287.66,966.69 289.03,965.92 290.41,965.14 291.78,964.33 293.15,963.48 294.52,962.58 295.89,961.63 297.27,960.61 298.64,959.51 300.01,958.29 301.38,956.90 302.75,955.35 304.12,953.68 305.50,951.92 306.87,950.09 308.24,948.24 309.61,946.38 310.98,944.54 312.35,942.69 313.73,940.80 315.10,938.87 316.47,936.90 317.84,934.90 319.21,932.86 320.58,930.78 321.96,928.67 323.33,926.52 324.70,924.34 326.07,922.12 327.44,919.83 328.82,917.48 330.19,915.07 331.56,912.63 332.93,910.15 334.30,907.65 335.67,905.14 337.05,902.62 338.42,900.12 339.79,897.62 341.16,895.15 342.53,892.66 343.90,890.16 345.28,887.65 346.65,885.13 348.02,882.61 349.39,880.09 350.76,877.56 352.14,875.04 353.51,872.52 354.88,870.01 356.25,867.50 357.62,864.99 358.99,862.48 360.37,859.97 361.74,857.47 363.11,854.96 364.48,852.45 365.85,849.95 367.22,847.44 368.60,844.93 369.97,842.43 371.34,839.93 372.71,837.42 374.08,834.92 375.45,832.41 376.83,829.91 378.20,827.41 379.57,824.91 380.94,822.41 382.31,819.90 383.69,817.40 385.06,814.90 386.43,812.40 387.80,809.90 389.17,807.40 390.54,804.90 391.92,802.40 393.29,799.91 394.66,797.41 396.03,794.91 397.40,792.41 398.77,789.92 400.15,787.42 401.52,784.92 402.89,782.43 404.26,779.93 405.63,777.44 407.00,774.94 408.38,772.45 409.75,769.95 411.12,767.46 411.12,767.46 411.12,767.46 411.12,767.46 411.12,767.46 411.12,767.46 411.12,767.46 411.12,767.46 411.12,767.46 411.12,767.46 411.12,767.46 411.12,767.46 411.12,767.46 411.12,767.46 411.12,767.46 411.12,767.46 411.12,767.46 411.12,767.46 411.12,767.46 411.12,767.46 411.12,767.46 411.12,767.46 411.12,767.46 411.12,767.46 411.12,767.46 411.12,767.46 411.12,767.46 411.12,767.46 411.12,767.46 411.12,767.46 411.12,767.46 411.12,767.46 411.12,767.46 411.12,767.46 411.12,767.46 411.12,767.46 411.12,767.46 411.12,767.46 411.12,767.46 411.12,767.46 411.12,767.46 411.12,767.46 411.12,767.46 411.12,767.46 411.12,767.46 411.12,767.46 411.12,767.46 411.12,767.46 411.12,767.46 411.12,767.46 411.12,767.46 411.12,767.46 411.12,767.46 411.12,767.46 411.12,767.46 411.12,767.46 411.12,767.46 411.12,767.46 411.12,767.46 411.12,767.46 411.12,767.46 411.12,767.46 411.12,767.46 411.12,767.46 411.12,767.46 411.12,767.46 411.12,767.46 411.12,767.46 411.12,767.46 411.12,767.46 411.12,767.46 411.12,767.46 411.12,767.46 411.12,767.46 411.12,767.46 411.12,767.46 411.12,767.46 411.12,767.46 411.12,767.46 411.12,767.46 411.12,767.46 411.12,767.46 411.12,767.46 411.12,767.46 411.12,767.46 411.12,767.46 411.12,767.46 411.12,767.46 411.12,767.46 411.12,767.46 411.12,767.46 411.12,767.46 411.12,767.46 411.12,767.46 411.12,767.46 411.12,767.46 411.12,767.46 411.12,767.46 411.12,767.46 411.12,767.46 411.12,767.46 411.12,767.46 411.12,767.46 411.12,767.46 411.12,767.46 411.12,767.46 411.12,767.46 411.12,767.46 411.12,767.46 411.12,767.46"/>
<path d="M261.60,982.60 262.97,981.82 264.34,981.04 265.72,980.26 267.09,979.47 268.46,978.69 269.83,977.91 271.20,977.13 272.57,976.35 273.95,975.57 275.32,974.78 276.69,974.00 278.06,973.22 279.43,972.44 280.80,971.66 282.18,970.90 283.55,970.17 284.92,969.45 286.29,968.73 287.66,968.02 289.03,967.30 290.41,966.57 291.78,965.82 293.15,965.05 294.52,964.24 295.89,963.39 297.27,962.50 298.64,961.55 300.01,960.53 301.38,959.40 302.75,958.18 304.12,956.90 305.50,955.56 306.87,954.18 308.24,952.79 309.61,951.39 310.98,950.00 312.35,948.62 313.73,947.21 315.10,945.79 316.47,944.35 317.84,942.88 319.21,941.39 320.58,939.87 321.96,938.32 323.33,936.74 324.70,935.13 326.07,933.47 327.44,931.76 328.82,930.01 330.19,928.22 331.56,926.39 332.93,924.53 334.30,922.64 335.67,920.74 337.05,918.82 338.42,916.89 339.79,914.96 341.16,913.02 342.53,911.06 343.90,909.08 345.28,907.09 346.65,905.07 348.02,903.03 349.39,900.98 350.76,898.92 352.14,896.84 353.51,894.75 354.88,892.65 356.25,890.54 357.62,888.41 358.99,886.26 360.37,884.10 361.74,881.93 363.11,879.74 364.48,877.53 365.85,875.31 367.22,873.08 368.60,870.84 369.97,868.58 371.34,866.30 372.71,864.01 374.08,861.69 375.45,859.35 376.83,857.00 378.20,854.64 379.57,852.28 380.94,849.91 382.31,847.53 383.69,845.16 385.06,842.79 386.43,840.43 387.80,838.05 389.17,835.67 390.54,833.29 391.92,830.90 393.29,828.51 394.66,826.12 396.03,823.73 397.40,821.33 398.77,818.94 400.15,816.55 401.52,814.16 402.89,811.77 404.26,809.38 405.63,806.99 407.00,804.60 408.38,802.21 409.75,799.82 411.12,797.42 411.12,797.42 411.12,797.42 411.12,797.42 411.12,797.42 411.12,797.42 411.12,797.42 411.12,797.42 411.12,797.42 411.12,797.42 411.12,797.42 411.12,797.42 411.12,797.42 411.12,797.42 411.12,797.42 411.12,797.42 411.12,797.42 411.12,797.42 411.12,797.42 411.12,797.42 411.12,797.42 411.12,797.42 411.12,797.42 411.12,797.42 411.12,797.42 411.12,797.42 411.12,797.42 411.12,797.42 411.12,797.42 411.12,797.42 411.12,797.42 411.12,797.42 411.12,797.42 411.12,797.42 411.12,797.42 411.12,797.42 411.12,797.42 411.12,797.42 411.12,797.42 411.12,797.42 411.12,797.42 411.12,797.42 411.12,797.42 411.12,797.42 411.12,797.42 411.12,797.42 411.12,797.42 411.12,797.42 411.12,797.42 411.12,797.42 411.12,797.42 411.12,797.42 411.12,797.42 411.12,797.42 411.12,797.42 411.12,797.42 411.12,797.42 411.12,797.42 411.12,797.42 411.12,797.42 411.12,797.42 411.12,797.42 411.12,797.42 411.12,797.42 411.12,797.42 411.12,797.42 411.12,797.42 411.12,797.42 411.12,797.42 411.12,797.42 411.12,797.42 411.12,797.42 411.12,797.42 411.12,797.42 411.12,797.42 411.12,797.42 411.12,797.42 411.12,797.42 411.12,797.42 411.12,797.42 411.12,797.42 411.12,797.42 411.12,797.42 411.12,797.42 411.12,797.42 411.12,797.42 411.12,797.42 411.12,797.42 411.12,797.42 411.12,797.42 411.12,797.42 411.12,797.42 411.12,797.42 411.12,797.42 411.12,797.42 411.12,797.42 411.12,797.42 411.12,797.42 411.12,797.42 411.12,797.42 411.12,797.42 411.12,797.42 411.12,797.42 411.12,797.42 411.12,797.42 411.12,797.42 411.12,797.42 411.12,797.42 411.12,797.42 411.12,797.42"/>
<path d="M261.60,982.60 262.97,981.89 264.34,981.17 265.72,980.46 267.09,979.75 268.46,979.03 269.83,978.32 271.20,977.60 272.57,976.89 273.95,976.18 275.32,975.46 276.69,974.75 278.06,974.04 279.43,973.32 280.80,972.61 282.18,971.91 283.55,971.22 284.92,970.54 286.29,969.86 287.66,969.19 289.03,968.51 290.41,967.82 291.78,967.13 293.15,966.42 294.52,965.69 295.89,964.94 297.27,964.16 298.64,963.36 300.01,962.53 301.38,961.66 302.75,960.77 304.12,959.85 305.50,958.89 306.87,957.90 308.24,956.88 309.61,955.81 310.98,954.71 312.35,953.55 313.73,952.32 315.10,951.05 316.47,949.72 317.84,948.37 319.21,946.98 320.58,945.58 321.96,944.17 323.33,942.76 324.70,941.36 326.07,939.97 327.44,938.57 328.82,937.15 330.19,935.72 331.56,934.28 332.93,932.83 334.30,931.37 335.67,929.91 337.05,928.44 338.42,926.96 339.79,925.48 341.16,924.00 342.53,922.50 343.90,921.00 345.28,919.49 346.65,917.98 348.02,916.46 349.39,914.93 350.76,913.40 352.14,911.87 353.51,910.34 354.88,908.81 356.25,907.28 357.62,905.74 358.99,904.20 360.37,902.66 361.74,901.11 363.11,899.56 364.48,898.01 365.85,896.46 367.22,894.91 368.60,893.36 369.97,891.81 371.34,890.25 372.71,888.70 374.08,887.14 375.45,885.58 376.83,884.03 378.20,882.47 379.57,880.91 380.94,879.35 382.31,877.78 383.69,876.22 385.06,874.66 386.43,873.10 387.80,871.54 389.17,869.98 390.54,868.42 391.92,866.85 393.29,865.29 394.66,863.72 396.03,862.16 397.40,860.60 398.77,859.03 400.15,857.46 401.52,855.90 402.89,854.33 404.26,852.76 405.63,851.19 407.00,849.63 408.38,848.06 409.75,846.49 411.12,844.92 411.12,844.92 411.12,844.92 411.12,844.92 411.12,844.92 411.12,844.92 411.12,844.92 411.12,844.92 411.12,844.92 411.12,844.92 411.12,844.92 411.12,844.92 411.12,844.92 411.12,844.92 411.12,844.92 411.12,844.92 411.12,844.92 411.12,844.92 411.12,844.92 411.12,844.92 411.12,844.92 411.12,844.92 411.12,844.92 411.12,844.92 411.12,844.92 411.12,844.92 411.12,844.92 411.12,844.92 411.12,844.92 411.12,844.92 411.12,844.92 411.12,844.92 411.12,844.92 411.12,844.92 411.12,844.92 411.12,844.92 411.12,844.92 411.12,844.92 411.12,844.92 411.12,844.92 411.12,844.92 411.12,844.92 411.12,844.92 411.12,844.92 411.12,844.92 411.12,844.92 411.12,844.92 411.12,844.92 411.12,844.92 411.12,844.92 411.12,844.92 411.12,844.92 411.12,844.92 411.12,844.92 411.12,844.92 411.12,844.92 411.12,844.92 411.12,844.92 411.12,844.92 411.12,844.92 411.12,844.92 411.12,844.92 411.12,844.92 411.12,844.92 411.12,844.92 411.12,844.92 411.12,844.92 411.12,844.92 411.12,844.92 411.12,844.92 411.12,844.92 411.12,844.92 411.12,844.92 411.12,844.92 411.12,844.92 411.12,844.92 411.12,844.92 411.12,844.92 411.12,844.92 411.12,844.92 411.12,844.92 411.12,844.92 411.12,844.92 411.12,844.92 411.12,844.92 411.12,844.92 411.12,844.92 411.12,844.92 411.12,844.92 411.12,844.92 411.12,844.92 411.12,844.92 411.12,844.92 411.12,844.92 411.12,844.92 411.12,844.92 411.12,844.92 411.12,844.92 411.12,844.92 411.12,844.92 411.12,844.92 411.12,844.92 411.12,844.92 411.12,844.92 411.12,844.92 411.12,844.92 411.12,844.92 411.12,844.92 411.12,844.92 411.12,844.92"/>
<path d="M261.60,982.60 262.97,981.95 264.34,981.29 265.72,980.64 267.09,979.98 268.46,979.33 269.83,978.68 271.20,978.02 272.57,977.37 273.95,976.71 275.32,976.06 276.69,975.40 278.06,974.75 279.43,974.10 280.80,973.44 282.18,972.79 283.55,972.14 284.92,971.49 286.29,970.84 287.66,970.19 289.03,969.54 290.41,968.89 291.78,968.24 293.15,967.59 294.52,966.93 295.89,966.27 297.27,965.61 298.64,964.94 300.01,964.28 301.38,963.62 302.75,962.97 304.12,962.31 305.50,961.64 306.87,960.96 308.24,960.26 309.61,959.52 310.98,958.75 312.35,957.94 313.73,957.11 315.10,956.24 316.47,955.35 317.84,954.44 319.21,953.50 320.58,952.55 321.96,951.58 323.33,950.60 324.70,949.60 326.07,948.59 327.44,947.55 328.82,946.48 330.19,945.39 331.56,944.28 332.93,943.15 334.30,942.01 335.67,940.87 337.05,939.73 338.42,938.59 339.79,937.47 341.16,936.35 342.53,935.23 343.90,934.11 345.28,932.98 346.65,931.86 348.02,930.73 349.39,929.60 350.76,928.48 352.14,927.36 353.51,926.25 354.88,925.14 356.25,924.04 357.62,922.95 358.99,921.87 360.37,920.79 361.74,919.72 363.11,918.65 364.48,917.57 365.85,916.49 367.22,915.40 368.60,914.29 369.97,913.17 371.34,912.04 372.71,910.91 374.08,909.77 375.45,908.62 376.83,907.46 378.20,906.29 379.57,905.12 380.94,903.94 382.31,902.74 383.69,901.54 385.06,900.32 386.43,899.09 387.80,897.84 389.17,896.58 390.54,895.30 391.92,894.02 393.29,892.72 394.66,891.43 396.03,890.13 397.40,888.84 398.77,887.55 400.15,886.26 401.52,884.98 402.89,883.70 404.26,882.42 405.63,881.14 407.00,879.85 408.38,878.57 409.75,877.29 411.12,876.00 411.12,876.00 411.12,876.00 411.12,876.00 411.12,876.00 411.12,876.00 411.12,876.00 411.12,876.00 411.12,876.00 411.12,876.00 411.12,876.00 411.12,876.00 411.12,876.00 411.12,876.00 411.12,876.00 411.12,876.00 411.12,876.00 411.12,876.00 411.12,876.00 411.12,876.00 411.12,876.00 411.12,876.00 411.12,876.00 411.12,876.00 411.12,876.00 411.12,876.00 411.12,876.00 411.12,876.00 411.12,876.00 411.12,876.00 411.12,876.00 411.12,876.00 411.12,876.00 411.12,876.00 411.12,876.00 411.12,876.00 411.12,876.00 411.12,876.00 411.12,876.00 411.12,876.00 411.12,876.00 411.12,876.00 411.12,876.00 411.12,876.00 411.12,876.00 411.12,876.00 411.12,876.00 411.12,876.00 411.12,876.00 411.12,876.00 411.12,876.00 411.12,876.00 411.12,876.00 411.12,876.00 411.12,876.00 411.12,876.00 411.12,876.00 411.12,876.00 411.12,876.00 411.12,876.00 411.12,876.00 411.12,876.00 411.12,876.00 411.12,876.00 411.12,876.00 411.12,876.00 411.12,876.00 411.12,876.00 411.12,876.00 411.12,876.00 411.12,876.00 411.12,876.00 411.12,876.00 411.12,876.00 411.12,876.00 411.12,876.00 411.12,876.00 411.12,876.00 411.12,876.00 411.12,876.00 411.12,876.00 411.12,876.00 411.12,876.00 411.12,876.00 411.12,876.00 411.12,876.00 411.12,876.00 411.12,876.00 411.12,876.00 411.12,876.00 411.12,876.00 411.12,876.00 411.12,876.00 411.12,876.00 411.12,876.00 411.12,876.00 411.12,876.00 411.12,876.00 411.12,876.00 411.12,876.00 411.12,876.00 411.12,876.00 411.12,876.00 411.12,876.00 411.12,876.00 411.12,876.00 411.12,876.00 411.12,876.00 411.12,876.00 411.12,876.00"/>
<path d="M261.60,982.60 262.97,982.00 264.34,981.39 265.72,980.79 267.09,980.19 268.46,979.58 269.83,978.98 271.20,978.38 272.57,977.77 273.95,977.17 275.32,976.57 276.69,975.97 278.06,975.36 279.43,974.76 280.80,974.16 282.18,973.55 283.55,972.94 284.92,972.33 286.29,971.71 287.66,971.10 289.03,970.49 290.41,969.88 291.78,969.27 293.15,968.66 294.52,968.07 295.89,967.47 297.27,966.89 298.64,966.31 300.01,965.74 301.38,965.21 302.75,964.69 304.12,964.18 305.50,963.66 306.87,963.13 308.24,962.57 309.61,961.98 310.98,961.33 312.35,960.63 313.73,959.88 315.10,959.08 316.47,958.25 317.84,957.40 319.21,956.52 320.58,955.64 321.96,954.77 323.33,953.90 324.70,953.05 326.07,952.22 327.44,951.39 328.82,950.57 330.19,949.74 331.56,948.92 332.93,948.09 334.30,947.26 335.67,946.43 337.05,945.59 338.42,944.76 339.79,943.92 341.16,943.07 342.53,942.22 343.90,941.37 345.28,940.51 346.65,939.65 348.02,938.79 349.39,937.93 350.76,937.06 352.14,936.20 353.51,935.33 354.88,934.47 356.25,933.60 357.62,932.73 358.99,931.87 360.37,931.00 361.74,930.13 363.11,929.26 364.48,928.38 365.85,927.51 367.22,926.64 368.60,925.77 369.97,924.90 371.34,924.02 372.71,923.15 374.08,922.28 375.45,921.40 376.83,920.53 378.20,919.66 379.57,918.78 380.94,917.91 382.31,917.03 383.69,916.16 385.06,915.28 386.43,914.41 387.80,913.54 389.17,912.66 390.54,911.78 391.92,910.91 393.29,910.03 394.66,909.16 396.03,908.28 397.40,907.41 398.77,906.53 400.15,905.66 401.52,904.78 402.89,903.91 404.26,903.03 405.63,902.16 407.00,901.28 408.38,900.41 409.75,899.54 411.12,898.66 411.12,898.66 411.12,898.66 411.12,898.66 411.12,898.66 411.12,898.66 411.12,898.66 411.12,898.66 411.12,898.66 411.12,898.66 411.12,898.66 411.12,898.66 411.12,898.66 411.12,898.66 411.12,898.66 411.12,898.66 411.12,898.66 411.12,898.66 411.12,898.66 411.12,898.66 411.12,898.66 411.12,898.66 411.12,898.66 411.12,898.66 411.12,898.66 411.12,898.66 411.12,898.66 411.12,898.66 411.12,898.66 411.12,898.66 411.12,898.66 411.12,898.66 411.12,898.66 411.12,898.66 411.12,898.66 411.12,898.66 411.12,898.66 411.12,898.66 411.12,898.66 411.12,898.66 411.12,898.66 411.12,898.66 411.12,898.66 411.12,898.66 411.12,898.66 411.12,898.66 411.12,898.66 411.12,898.66 411.12,898.66 411.12,898.66 411.12,898.66 411.12,898.66 411.12,898.66 411.12,898.66 411.12,898.66 411.12,898.66 411.12,898.66 411.12,898.66 411.12,898.66 411.12,898.66 411.12,898.66 411.12,898.66 411.12,898.66 411.12,898.66 411.12,898.66 411.12,898.66 411.12,898.66 411.12,898.66 411.12,898.66 411.12,898.66 411.12,898.66 411.12,898.66 411.12,898.66 411.12,898.66 411.12,898.66 411.12,898.66 411.12,898.66 411.12,898.66 411.12,898.66 411.12,898.66 411.12,898.66 411.12,898.66 411.12,898.66 411.12,898.66 411.12,898.66 411.12,898.66 411.12,898.66 411.12,898.66 411.12,898.66 411.12,898.66 411.12,898.66 411.12,898.66 411.12,898.66 411.12,898.66 411.12,898.66 411.12,898.66 411.12,898.66 411.12,898.66 411.12,898.66 411.12,898.66 411.12,898.66 411.12,898.66 411.12,898.66 411.12,898.66 411.12,898.66 411.12,898.66 411.12,898.66 411.12,898.66 411.12,898.66 411.12,898.66"/>
<path d="M261.60,982.60 262.97,982.04 264.34,981.48 265.72,980.92 267.09,980.36 268.46,979.80 269.83,979.24 271.20,978.68 272.57,978.11 273.95,977.55 275.32,976.99 276.69,976.43 278.06,975.87 279.43,975.31 280.80,974.75 282.18,974.19 283.55,973.62 284.92,973.05 286.29,972.49 287.66,971.92 289.03,971.35 290.41,970.78 291.78,970.22 293.15,969.66 294.52,969.10 295.89,968.55 297.27,968.00 298.64,967.46 300.01,966.93 301.38,966.42 302.75,965.92 304.12,965.43 305.50,964.94 306.87,964.43 308.24,963.90 309.61,963.34 310.98,962.73 312.35,962.07 313.73,961.36 315.10,960.61 316.47,959.82 317.84,959.02 319.21,958.20 320.58,957.39 321.96,956.59 323.33,955.80 324.70,955.05 326.07,954.33 327.44,953.63 328.82,952.94 330.19,952.26 331.56,951.59 332.93,950.92 334.30,950.26 335.67,949.59 337.05,948.92 338.42,948.25 339.79,947.56 341.16,946.87 342.53,946.18 343.90,945.48 345.28,944.78 346.65,944.08 348.02,943.38 349.39,942.67 350.76,941.96 352.14,941.26 353.51,940.54 354.88,939.83 356.25,939.12 357.62,938.40 358.99,937.68 360.37,936.96 361.74,936.24 363.11,935.52 364.48,934.79 365.85,934.06 367.22,933.33 368.60,932.60 369.97,931.87 371.34,931.14 372.71,930.40 374.08,929.66 375.45,928.92 376.83,928.18 378.20,927.44 379.57,926.70 380.94,925.95 382.31,925.21 383.69,924.46 385.06,923.71 386.43,922.96 387.80,922.21 389.17,921.46 390.54,920.70 391.92,919.95 393.29,919.19 394.66,918.43 396.03,917.67 397.40,916.91 398.77,916.15 400.15,915.39 401.52,914.63 402.89,913.86 404.26,913.10 405.63,912.33 407.00,911.56 408.38,910.80 409.75,910.03 411.12,909.26 411.12,909.26 411.12,909.26 411.12,909.26 411.12,909.26 411.12,909.26 411.12,909.26 411.12,909.26 411.12,909.26 411.12,909.26 411.12,909.26 411.12,909.26 411.12,909.26 411.12,909.26 411.12,909.26 411.12,909.26 411.12,909.26 411.12,909.26 411.12,909.26 411.12,909.26 411.12,909.26 411.12,909.26 411.12,909.26 411.12,909.26 411.12,909.26 411.12,909.26 411.12,909.26 411.12,909.26 411.12,909.26 411.12,909.26 411.12,909.26 411.12,909.26 411.12,909.26 411.12,909.26 411.12,909.26 411.12,909.26 411.12,909.26 411.12,909.26 411.12,909.26 411.12,909.26 411.12,909.26 411.12,909.26 411.12,909.26 411.12,909.26 411.12,909.26 411.12,909.26 411.12,909.26 411.12,909.26 411.12,909.26 411.12,909.26 411.12,909.26 411.12,909.26 411.12,909.26 411.12,909.26 411.12,909.26 411.12,909.26 411.12,909.26 411.12,909.26 411.12,909.26 411.12,909.26 411.12,909.26 411.12,909.26 411.12,909.26 411.12,909.26 411.12,909.26 411.12,909.26 411.12,909.26 411.12,909.26 411.12,909.26 411.12,909.26 411.12,909.26 411.12,909.26 411.12,909.26 411.12,909.26 411.12,909.26 411.12,909.26 411.12,909.26 411.12,909.26 411.12,909.26 411.12,909.26 411.12,909.26 411.12,909.26 411.12,909.26 411.12,909.26 411.12,909.26 411.12,909.26 411.12,909.26 411.12,909.26 411.12,909.26 411.12,909.26 411.12,909.26 411.12,909.26 411.12,909.26 411.12,909.26 411.12,909.26 411.12,909.26 411.12,909.26 411.12,909.26 411.12,909.26 411.12,909.26 411.12,909.26 411.12,909.26 411.12,909.26 411.12,909.26 411.12,909.26 411.12,909.26 411.12,909.26 411.12,909.26 411.12,909.26 411.12,909.26"/>
<path d="M261.60,982.60 262.97,982.09 264.34,981.58 265.72,981.07 267.09,980.56 268.46,980.05 269.83,979.54 271.20,979.03 272.57,978.52 273.95,978.01 275.32,977.50 276.69,976.99 278.06,976.48 279.43,975.97 280.80,975.46 282.18,974.94 283.55,974.42 284.92,973.89 286.29,973.35 287.66,972.82 289.03,972.28 290.41,971.76 291.78,971.23 293.15,970.72 294.52,970.22 295.89,969.74 297.27,969.27 298.64,968.82 300.01,968.39 301.38,968.00 302.75,967.62 304.12,967.26 305.50,966.90 306.87,966.54 308.24,966.16 309.61,965.76 310.98,965.34 312.35,964.88 313.73,964.40 315.10,963.90 316.47,963.38 317.84,962.86 319.21,962.32 320.58,961.79 321.96,961.26 323.33,960.73 324.70,960.21 326.07,959.71 327.44,959.20 328.82,958.70 330.19,958.20 331.56,957.70 332.93,957.20 334.30,956.70 335.67,956.20 337.05,955.71 338.42,955.20 339.79,954.70 341.16,954.20 342.53,953.70 343.90,953.19 345.28,952.69 346.65,952.18 348.02,951.68 349.39,951.17 350.76,950.67 352.14,950.16 353.51,949.65 354.88,949.15 356.25,948.64 357.62,948.13 358.99,947.62 360.37,947.11 361.74,946.60 363.11,946.09 364.48,945.58 365.85,945.07 367.22,944.56 368.60,944.05 369.97,943.54 371.34,943.03 372.71,942.52 374.08,942.00 375.45,941.49 376.83,940.98 378.20,940.46 379.57,939.95 380.94,939.44 382.31,938.92 383.69,938.41 385.06,937.89 386.43,937.38 387.80,936.86 389.17,936.34 390.54,935.83 391.92,935.31 393.29,934.79 394.66,934.27 396.03,933.76 397.40,933.24 398.77,932.72 400.15,932.20 401.52,931.68 402.89,931.16 404.26,930.64 405.63,930.12 407.00,929.60 408.38,929.08 409.75,928.56 411.12,928.04 411.12,928.04 411.12,928.04 411.12,928.04 411.12,928.04 411.12,928.04 411.12,928.04 411.12,928.04 411.12,928.04 411.12,928.04 411.12,928.04 411.12,928.04 411.12,928.04 411.12,928.04 411.12,928.04 411.12,928.04 411.12,928.04 411.12,928.04 411.12,928.04 411.12,928.04 411.12,928.04 411.12,928.04 411.12,928.04 411.12,928.04 411.12,928.04 411.12,928.04 411.12,928.04 411.12,928.04 411.12,928.04 411.12,928.04 411.12,928.04 411.12,928.04 411.12,928.04 411.12,928.04 411.12,928.04 411.12,928.04 411.12,928.04 411.12,928.04 411.12,928.04 411.12,928.04 411.12,928.04 411.12,928.04 411.12,928.04 411.12,928.04 411.12,928.04 411.12,928.04 411.12,928.04 411.12,928.04 411.12,928.04 411.12,928.04 411.12,928.04 411.12,928.04 411.12,928.04 411.12,928.04 411.12,928.04 411.12,928.04 411.12,928.04 411.12,928.04 411.12,928.04 411.12,928.04 411.12,928.04 411.12,928.04 411.12,928.04 411.12,928.04 411.12,928.04 411.12,928.04 411.12,928.04 411.12,928.04 411.12,928.04 411.12,928.04 411.12,928.04 411.12,928.04 411.12,928.04 411.12,928.04 411.12,928.04 411.12,928.04 411.12,928.04 411.12,928.04 411.12,928.04 411.12,928.04 411.12,928.04 411.12,928.04 411.12,928.04 411.12,928.04 411.12,928.04 411.12,928.04 411.12,928.04 411.12,928.04 411.12,928.04 411.12,928.04 411.12,928.04 411.12,928.04 411.12,928.04 411.12,928.04 411.12,928.04 411.12,928.04 411.12,928.04 411.12,928.04 411.12,928.04 411.12,928.04 411.12,928.04 411.12,928.04 411.12,928.04 411.12,928.04 411.12,928.04 411.12,928.04 411.12,928.04 411.12,928.04 411.12,928.04 411.12,928.04"/>
<path d="M261.60,982.60 262.97,982.12 264.34,981.65 265.72,981.17 267.09,980.70 268.46,980.22 269.83,979.75 271.20,979.27 272.57,978.79 273.95,978.32 275.32,977.84 276.69,977.37 278.06,976.89 279.43,976.42 280.80,975.94 282.18,975.46 283.55,974.97 284.92,974.48 286.29,973.98 287.66,973.49 289.03,973.00 290.41,972.51 291.78,972.03 293.15,971.55 294.52,971.08 295.89,970.62 297.27,970.17 298.64,969.74 300.01,969.33 301.38,968.93 302.75,968.55 304.12,968.19 305.50,967.82 306.87,967.45 308.24,967.07 309.61,966.68 310.98,966.27 312.35,965.84 313.73,965.40 315.10,964.94 316.47,964.48 317.84,964.01 319.21,963.54 320.58,963.06 321.96,962.59 323.33,962.11 324.70,961.64 326.07,961.17 327.44,960.70 328.82,960.23 330.19,959.76 331.56,959.29 332.93,958.81 334.30,958.34 335.67,957.86 337.05,957.39 338.42,956.91 339.79,956.43 341.16,955.96 342.53,955.48 343.90,955.00 345.28,954.52 346.65,954.04 348.02,953.56 349.39,953.08 350.76,952.60 352.14,952.12 353.51,951.64 354.88,951.16 356.25,950.68 357.62,950.19 358.99,949.71 360.37,949.23 361.74,948.74 363.11,948.26 364.48,947.77 365.85,947.28 367.22,946.80 368.60,946.31 369.97,945.82 371.34,945.33 372.71,944.84 374.08,944.36 375.45,943.87 376.83,943.38 378.20,942.89 379.57,942.39 380.94,941.90 382.31,941.41 383.69,940.92 385.06,940.43 386.43,939.93 387.80,939.44 389.17,938.94 390.54,938.45 391.92,937.95 393.29,937.46 394.66,936.96 396.03,936.47 397.40,935.97 398.77,935.47 400.15,934.97 401.52,934.48 402.89,933.98 404.26,933.48 405.63,932.98 407.00,932.48 408.38,931.98 409.75,931.48 411.12,930.98 411.12,930.98 411.12,930.98 411.12,930.98 411.12,930.98 411.12,930.98 411.12,930.98 411.12,930.98 411.12,930.98 411.12,930.98 411.12,930.98 411.12,930.98 411.12,930.98 411.12,930.98 411.12,930.98 411.12,930.98 411.12,930.98 411.12,930.98 411.12,930.98 411.12,930.98 411.12,930.98 411.12,930.98 411.12,930.98 411.12,930.98 411.12,930.98 411.12,930.98 411.12,930.98 411.12,930.98 411.12,930.98 411.12,930.98 411.12,930.98 411.12,930.98 411.12,930.98 411.12,930.98 411.12,930.98 411.12,930.98 411.12,930.98 411.12,930.98 411.12,930.98 411.12,930.98 411.12,930.98 411.12,930.98 411.12,930.98 411.12,930.98 411.12,930.98 411.12,930.98 411.12,930.98 411.12,930.98 411.12,930.98 411.12,930.98 411.12,930.98 411.12,930.98 411.12,930.98 411.12,930.98 411.12,930.98 411.12,930.98 411.12,930.98 411.12,930.98 411.12,930.98 411.12,930.98 411.12,930.98 411.12,930.98 411.12,930.98 411.12,930.98 411.12,930.98 411.12,930.98 411.12,930.98 411.12,930.98 411.12,930.98 411.12,930.98 411.12,930.98 411.12,930.98 411.12,930.98 411.12,930.98 411.12,930.98 411.12,930.98 411.12,930.98 411.12,930.98 411.12,930.98 411.12,930.98 411.12,930.98 411.12,930.98 411.12,930.98 411.12,930.98 411.12,930.98 411.12,930.98 411.12,930.98 411.12,930.98 411.12,930.98 411.12,930.98 411.12,930.98 411.12,930.98 411.12,930.98 411.12,930.98 411.12,930.98 411.12,930.98 411.12,930.98 411.12,930.98 411.12,930.98 411.12,930.98 411.12,930.98 411.12,930.98 411.12,930.98 411.12,930.98 411.12,930.98 411.12,930.98 411.12,930.98 411.12,930.98 411.12,930.98 411.12,930.98"/>
<path d="M261.60,982.60 262.97,982.18 264.34,981.75 265.72,981.33 267.09,980.90 268.46,980.48 269.83,980.05 271.20,979.63 272.57,979.20 273.95,978.78 275.32,978.35 276.69,977.93 278.06,977.50 279.43,977.08 280.80,976.65 282.18,976.22 283.55,975.78 284.92,975.34 286.29,974.90 287.66,974.46 289.03,974.01 290.41,973.57 291.78,973.14 293.15,972.71 294.52,972.30 295.89,971.89 297.27,971.50 298.64,971.12 300.01,970.76 301.38,970.42 302.75,970.09 304.12,969.78 305.50,969.47 306.87,969.15 308.24,968.83 309.61,968.49 310.98,968.14 312.35,967.77 313.73,967.38 315.10,966.99 316.47,966.59 317.84,966.19 319.21,965.77 320.58,965.36 321.96,964.94 323.33,964.52 324.70,964.10 326.07,963.68 327.44,963.25 328.82,962.82 330.19,962.39 331.56,961.95 332.93,961.51 334.30,961.07 335.67,960.62 337.05,960.18 338.42,959.73 339.79,959.29 341.16,958.85 342.53,958.40 343.90,957.96 345.28,957.51 346.65,957.07 348.02,956.62 349.39,956.17 350.76,955.72 352.14,955.27 353.51,954.82 354.88,954.37 356.25,953.91 357.62,953.46 358.99,953.00 360.37,952.55 361.74,952.09 363.11,951.64 364.48,951.18 365.85,950.72 367.22,950.26 368.60,949.80 369.97,949.34 371.34,948.88 372.71,948.42 374.08,947.96 375.45,947.49 376.83,947.03 378.20,946.57 379.57,946.10 380.94,945.64 382.31,945.17 383.69,944.70 385.06,944.24 386.43,943.77 387.80,943.30 389.17,942.83 390.54,942.36 391.92,941.89 393.29,941.42 394.66,940.95 396.03,940.48 397.40,940.01 398.77,939.54 400.15,939.07 401.52,938.60 402.89,938.12 404.26,937.65 405.63,937.18 407.00,936.70 408.38,936.23 409.75,935.75 411.12,935.28 411.12,935.28 411.12,935.28 411.12,935.28 411.12,935.28 411.12,935.28 411.12,935.28 411.12,935.28 411.12,935.28 411.12,935.28 411.12,935.28 411.12,935.28 411.12,935.28 411.12,935.28 411.12,935.28 411.12,935.28 411.12,935.28 411.12,935.28 411.12,935.28 411.12,935.28 411.12,935.28 411.12,935.28 411.12,935.28 411.12,935.28 411.12,935.28 411.12,935.28 411.12,935.28 411.12,935.28 411.12,935.28 411.12,935.28 411.12,935.28 411.12,935.28 411.12,935.28 411.12,935.28 411.12,935.28 411.12,935.28 411.12,935.28 411.12,935.28 411.12,935.28 411.12,935.28 411.12,935.28 411.12,935.28 411.12,935.28 411.12,935.28 411.12,935.28 411.12,935.28 411.12,935.28 411.12,935.28 411.12,935.28 411.12,935.28 411.12,935.28 411.12,935.28 411.12,935.28 411.12,935.28 411.12,935.28 411.12,935.28 411.12,935.28 411.12,935.28 411.12,935.28 411.12,935.28 411.12,935.28 411.12,935.28 411.12,935.28 411.12,935.28 411.12,935.28 411.12,935.28 411.12,935.28 411.12,935.28 411.12,935.28 411.12,935.28 411.12,935.28 411.12,935.28 411.12,935.28 411.12,935.28 411.12,935.28 411.12,935.28 411.12,935.28 411.12,935.28 411.12,935.28 411.12,935.28 411.12,935.28 411.12,935.28 411.12,935.28 411.12,935.28 411.12,935.28 411.12,935.28 411.12,935.28 411.12,935.28 411.12,935.28 411.12,935.28 411.12,935.28 411.12,935.28 411.12,935.28 411.12,935.28 411.12,935.28 411.12,935.28 411.12,935.28 411.12,935.28 411.12,935.28 411.12,935.28 411.12,935.28 411.12,935.28 411.12,935.28 411.12,935.28 411.12,935.28 411.12,935.28 411.12,935.28 411.12,935.28 411.12,935.28 411.12,935.28"/>
</g>
<g font-family="Liberation Sans, sans-serif" font-weight="bold" fill="#000" stroke="#000" stroke-width="0.95" stroke-linejoin="round" style="opacity:0.999">
<text x="219.02" y="271.39" font-size="20.50" textLength="35.04" lengthAdjust="spacingAndGlyphs">2200</text>
<text x="219.14" y="319.07" font-size="20.50" textLength="34.94" lengthAdjust="spacingAndGlyphs">2000</text>
<text x="219.37" y="367.13" font-size="20.50" textLength="34.66" lengthAdjust="spacingAndGlyphs">1800</text>
<text x="219.37" y="414.55" font-size="20.50" textLength="34.66" lengthAdjust="spacingAndGlyphs">1600</text>
<text x="220.33" y="462.13" font-size="20.50" textLength="33.71" lengthAdjust="spacingAndGlyphs">1400</text>
<text x="219.99" y="510.39" font-size="20.50" textLength="33.98" lengthAdjust="spacingAndGlyphs">1200</text>
<text x="220.33" y="557.71" font-size="20.50" textLength="33.23" lengthAdjust="spacingAndGlyphs">1000</text>
<text x="227.75" y="604.74" font-size="20.50" textLength="26.19" lengthAdjust="spacingAndGlyphs">800</text>
<text x="227.63" y="653.62" font-size="20.50" textLength="26.25" lengthAdjust="spacingAndGlyphs">600</text>
<text x="228.09" y="700.28" font-size="20.50" textLength="25.94" lengthAdjust="spacingAndGlyphs">400</text>
<text x="228.02" y="747.81" font-size="20.50" textLength="26.41" lengthAdjust="spacingAndGlyphs">200</text>
<text x="245.55" y="794.92" font-size="20.50" textLength="8.56" lengthAdjust="spacingAndGlyphs">0</text>
<text x="155.87" y="284.11" font-size="20.50" textLength="35.28" lengthAdjust="spacingAndGlyphs">7000</text>
<text x="155.83" y="357.78" font-size="20.50" textLength="35.37" lengthAdjust="spacingAndGlyphs">6000</text>
<text x="156.38" y="431.88" font-size="20.50" textLength="34.97" lengthAdjust="spacingAndGlyphs">5000</text>
<text x="156.27" y="503.17" font-size="20.50" textLength="34.99" lengthAdjust="spacingAndGlyphs">4000</text>
<text x="156.34" y="576.20" font-size="20.50" textLength="35.00" lengthAdjust="spacingAndGlyphs">3000</text>
<text x="156.28" y="649.71" font-size="20.50" textLength="34.93" lengthAdjust="spacingAndGlyphs">2000</text>
<text x="157.96" y="721.55" font-size="20.50" textLength="33.28" lengthAdjust="spacingAndGlyphs">1000</text>
<text x="182.47" y="794.81" font-size="20.50" textLength="8.52" lengthAdjust="spacingAndGlyphs">0</text>
<text x="255.63" y="809.33" font-size="20.50" textLength="8.55" lengthAdjust="spacingAndGlyphs">0</text>
<text x="307.32" y="809.72" font-size="20.50" textLength="12.72" lengthAdjust="spacingAndGlyphs">.5</text>
<text x="367.09" y="809.45" font-size="20.50" textLength="5.38" lengthAdjust="spacingAndGlyphs">1</text>
<text x="414.88" y="809.49" font-size="20.50" textLength="18.39" lengthAdjust="spacingAndGlyphs">1.5</text>
<text x="475.68" y="809.55" font-size="20.50" textLength="7.83" lengthAdjust="spacingAndGlyphs">2</text>
<text x="525.09" y="809.55" font-size="20.50" textLength="20.87" lengthAdjust="spacingAndGlyphs">2.5</text>
<text x="586.36" y="810.22" font-size="20.50" textLength="8.24" lengthAdjust="spacingAndGlyphs">3</text>
<text x="633.16" y="809.66" font-size="20.50" textLength="21.22" lengthAdjust="spacingAndGlyphs">3.5</text>
<text x="692.40" y="810.51" font-size="20.50" textLength="7.93" lengthAdjust="spacingAndGlyphs">4</text>
<text x="742.26" y="810.24" font-size="20.50" textLength="21.62" lengthAdjust="spacingAndGlyphs">4.5</text>
<text x="803.02" y="810.83" font-size="20.50" textLength="8.27" lengthAdjust="spacingAndGlyphs">5</text>
<text x="850.92" y="811.75" font-size="20.50" textLength="21.68" lengthAdjust="spacingAndGlyphs">5.5</text>
<text x="592.16" y="256.29" font-size="20.50" textLength="23.91" lengthAdjust="spacingAndGlyphs">0%</text>
<text x="620.98" y="256.13" font-size="20.50" textLength="23.34" lengthAdjust="spacingAndGlyphs">2%</text>
<text x="749.72" y="256.20" font-size="20.50" textLength="23.58" lengthAdjust="spacingAndGlyphs">4%</text>
<text x="866.71" y="314.56" font-size="20.50" textLength="24.74" lengthAdjust="spacingAndGlyphs">6%</text>
<text x="867.59" y="472.53" font-size="20.50" textLength="23.19" lengthAdjust="spacingAndGlyphs">8%</text>
<text x="867.74" y="502.71" font-size="20.50" textLength="30.32" lengthAdjust="spacingAndGlyphs">10%</text>
<text x="863.26" y="583.81" font-size="20.50" textLength="30.70" lengthAdjust="spacingAndGlyphs">12%</text>
<text x="864.79" y="602.07" font-size="20.50" textLength="30.63" lengthAdjust="spacingAndGlyphs">14%</text>
<text x="865.65" y="619.23" font-size="20.50" textLength="30.00" lengthAdjust="spacingAndGlyphs">16%</text>
<text x="226.37" y="846.46" font-size="20.50" textLength="25.82" lengthAdjust="spacingAndGlyphs">300</text>
<text x="226.28" y="893.49" font-size="20.50" textLength="25.78" lengthAdjust="spacingAndGlyphs">200</text>
<text x="226.81" y="941.07" font-size="20.50" textLength="25.32" lengthAdjust="spacingAndGlyphs">100</text>
<text x="243.64" y="988.28" font-size="20.50" textLength="8.39" lengthAdjust="spacingAndGlyphs">0</text>
<text x="156.75" y="845.23" font-size="20.50" textLength="34.43" lengthAdjust="spacingAndGlyphs">1000</text>
<text x="165.38" y="918.25" font-size="20.50" textLength="25.79" lengthAdjust="spacingAndGlyphs">500</text>
<text x="182.80" y="990.26" font-size="20.50" textLength="8.40" lengthAdjust="spacingAndGlyphs">0</text>
<text x="256.14" y="1006.36" font-size="20.50" textLength="8.74" lengthAdjust="spacingAndGlyphs">0</text>
<text x="298.11" y="1005.81" font-size="20.50" textLength="21.08" lengthAdjust="spacingAndGlyphs">.25</text>
<text x="350.01" y="1005.84" font-size="20.50" textLength="13.34" lengthAdjust="spacingAndGlyphs">.5</text>
<text x="391.01" y="1005.81" font-size="20.50" textLength="21.06" lengthAdjust="spacingAndGlyphs">.75</text>
</g>
<rect x="715.0" y="35.9" width="2.1" height="64.3" fill="#000"/>
<rect x="995.9" y="533.9" width="84.1" height="36.1" fill="#000"/>
</svg></body></html>
